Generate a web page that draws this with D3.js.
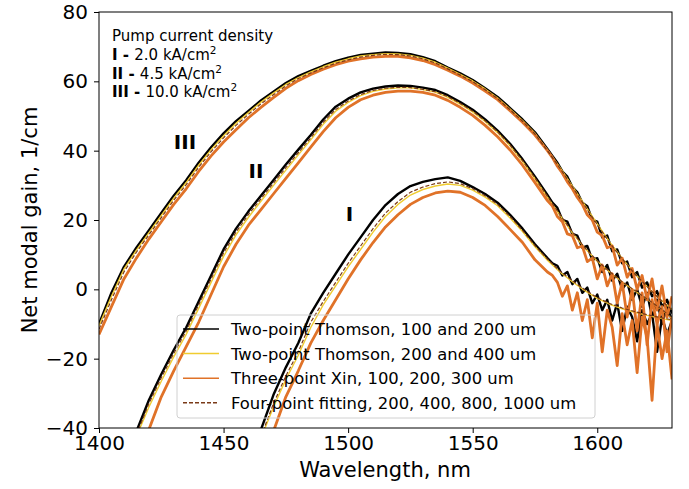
<!DOCTYPE html>
<meta charset="utf-8">
<style>
body { margin: 0; background: #fff; }
text { font-family: "DejaVu Sans", sans-serif; fill: #000; }
.axis path, .axis line { stroke: #000; stroke-width: 1px; }
.axis text { font-size: 20px; font-family: "DejaVu Sans", sans-serif; }
.fit { fill: none; stroke-linejoin: round; }
</style>
<body>
<script src="https://d3js.org/d3.v7.min.js"></script>
<script>

// wavelength grid, nm (main samples every 5 nm)
var wavelengths = [1400,1405,1410,1415,1420,1425,1430,1435,1440,1445,1450,1455,1460,1465,1470,1475,
  1480,1485,1490,1495,1500,1505,1510,1515,1520,1525,1530,1535,1540,1545,1550,1555,1560,1565,1570,1575,
  1580,1585,1590,1595,1600,1605,1610,1615,1620,1625,1630];
// noisy tail samples (every 2 nm) for the measured curves
var tailWl = [1582,1584,1586,1588,1590,1592,1594,1596,1598,1600,1602,1604,1606,1608,1610,1612,1614,
  1616,1618,1620,1622,1624,1626,1628,1630];

// ---- curve III (10.0 kA/cm2) ----
var blackIII = [-10,-1,6.5,12,17,22,27,31.5,36.5,41,45,48.5,51.5,54.5,57,59.5,61.5,63,64.5,65.8,66.8,67.6,
  68,68.3,68.2,67.8,67,65.8,64,62.3,60.4,58,55.5,52.3,49,45.3,40.5];
var blackIIITail = [38.5,36.5,34,32.5,29.5,28,25,24,20,19.5,15,15.5,11,11.5,7.5,8,3.5,5,0.5,2,-2,-0.5,-5,-3,-7];
var orangeIII = [-13,-5,3,9,14.5,19.5,24.5,29,34,38.5,42.5,46,49.5,52.5,55.3,58,60.2,62,63.5,64.8,65.8,66.5,
  67,67.2,67.2,66.8,66,64.8,63.2,61.5,59.5,57.2,54.7,51.5,48.2,44.5,40];
var orangeIIITail = [38,35.5,33.5,31,29,26.5,24.5,21.5,20,16.5,15.5,12,12.5,7,9,3.5,6,0,4,-3,3,-6,1,-8,-2];
var yellowIII = [-10.5,-2,5.8,11.3,16.3,21.3,26.3,30.8,35.8,40.3,44.3,47.9,51,54,56.6,59.1,61.1,62.7,64.2,
  65.5,66.5,67.3,67.7,68,67.9,67.5,66.7,65.5,63.8,62,60.1,57.8,55.2,52,48.7,45,40.2,35.2,29.8,24.3,18.9,
  13.6,8.9,4.6,0.8,-2.7,-5.8];
var dashedIII = [-11.5,-3,5,10.7,15.7,20.7,25.7,30.2,35.2,39.7,43.7,47.3,50.5,53.5,56.1,58.7,60.8,62.4,63.9,
  65.2,66.2,67,67.5,67.8,67.7,67.3,66.5,65.3,63.6,61.8,59.9,57.6,55,51.8,48.5,44.8,40,35,29.6,24.1,18.7,
  13.4,8.8,4.5,0.8,-2.8,-5.9];

// ---- curve II (4.5 kA/cm2) ----
var blackII = [null,null,null,-41,-32,-24.5,-17.5,-11,-3.5,4,11.5,17.5,22.5,27,31.5,36,40.3,44.5,49,52.7,55,
  56.8,57.9,58.5,58.8,58.7,58.2,57.5,56,54,51.8,49,45.8,42,37.5,32.5,27.2];
var blackIITail = [25,23.5,20,19.5,16,15.5,12,12.5,8.5,9,5,7,2.5,4.5,0,2,-3,0,-5,-1,-8,-3,-10,-5,-9];
var orangeII = [null,null,null,null,-40.5,-31,-23.5,-16.5,-9.5,-1.5,6.5,13,18.5,23,27.5,32,36.5,41,45.5,49.5,
  52.5,54.7,56,56.8,57.2,57.2,56.8,56,54.5,52.5,50.2,47.3,44,40.2,35.8,30.8,25.6];
var orangeIITail = [24,21,19.5,16,15.5,12,12.5,8,9,3,7,1,4.5,-4,2,-8,0,-12,-1,-16,-3,-10,-5,-18,-8];
var yellowII = [null,null,null,-42.5,-34,-26.5,-19.5,-13,-5.5,2,9.5,15.7,20.8,25.4,29.9,34.4,38.8,43.1,47.6,
  51.4,53.9,55.9,57.1,57.8,58.1,58.1,57.6,56.9,55.4,53.4,51.2,48.4,45.2,41.4,36.9,31.9,26.6,21.4,16.3,
  11.9,8.1,5,2.1,-0.4,-2.9,-5.4,-8.3];
var dashedII = [null,null,null,-42,-33,-25.5,-18.5,-12,-4.5,3,10.5,16.5,21.6,26.1,30.6,35.1,39.4,43.7,48.2,
  51.9,54.3,56.2,57.4,58,58.3,58.2,57.7,57,55.6,53.6,51.4,48.6,45.4,41.6,37.1,32.1,26.8,21.6,16.5,12,8.2,
  5.1,2.2,-0.3,-2.8,-5.3,-8.2];

// ---- curve I (2.0 kA/cm2) ----
var blackI = [null,null,null,null,null,null,null,null,null,null,null,null,null,-40.5,-30.5,-22.5,-15.5,-7,-1,
  4.5,10,15,20,24.3,27.5,29.8,31,31.8,32.3,31.3,29.5,27.5,25,21.5,17.5,13,9];
var blackITail = [7.5,6.8,4,5,1.5,3,-1,0.5,-4,-1.5,-6,-3,-9,-4,-12,-5,-8,-15,-6,-10,-7,-18,-8,-13,-9];
var orangeI = [null,null,null,null,null,null,null,null,null,null,null,null,null,null,-41,-31,-23.5,-15.5,-9,
  -3,3,8.5,13.5,18,21.5,24.5,26.5,27.8,28.3,28,26.5,24.2,21,17.3,13.5,8.5,5];
var orangeITail = [4,2,-2,1,-6,-1,-9,-3,-14,-4,-18,-6,-11,-22,-7,-16,-9,-24,-8,-14,-32,-10,-20,-12,-26];
var yellowI = [null,null,null,null,null,null,null,null,null,null,null,null,null,-43,-34,-26,-19,-11,-4.5,1,
  6.5,11.5,16.5,21,24.5,27.2,28.8,29.8,30.4,30,28.6,26.6,24.1,20.6,16.7,12.3,8.4,5,2.2,-0.4,-2.6,-4.3,
  -5.6,-6.6,-7.5,-8.3,-9];
var dashedI = [null,null,null,null,null,null,null,null,null,null,null,null,null,-42.5,-33,-25,-18,-9.5,-3.5,2,
  7.5,12.5,17.5,22,25.3,28,29.5,30.5,31,30.5,29,27,24.5,21,17,12.6,8.7,5.3,2.5,-0.1,-2.4,-4.1,-5.4,-6.4,
  -7.3,-8.1,-8.8];

var methodNames = ["Two-point Thomson, 100 and 200 um", "Two-point Thomson, 200 and 400 um",
  "Three-point Xin, 100, 200, 300 um", "Four-point fitting, 200, 400, 800, 1000 um"];
var methodColors = ["#000000", "#f0cc30", "#e07228", "#7a3a18"];
var xTicks = [1400, 1450, 1500, 1550, 1600];
var yTicks = [-40, -20, 0, 20, 40, 60, 80];
var currentLabels = [["I", "2.0"], ["II", "4.5"], ["III", "10.0"]];

var margin = {top: 12, right: 17, bottom: 61, left: 99},
    width = 689 - margin.left - margin.right,
    height = 489 - margin.top - margin.bottom;

var x = d3.scaleLinear().domain([1400, 1630]).range([0, width]);
var y = d3.scaleLinear().domain([-40, 80]).range([height, 0]);

var svg = d3.select("body").append("svg")
    .attr("width", 689)
    .attr("height", 489)
  .append("g")
    .attr("transform", "translate(" + margin.left + "," + margin.top + ")");

svg.append("clipPath").attr("id", "clip")
  .append("rect").attr("width", width).attr("height", height);

function points(xs, ys) {
  return ys.map(function(v, i) { return {x: xs[i], y: v}; })
           .filter(function(d) { return d.y !== null; });
}

var line = d3.line()
    .x(function(d) { return x(d.x); })
    .y(function(d) { return y(d.y); });

var plot = svg.append("g").attr("clip-path", "url(#clip)");

var measured = [
  {main: blackIII, tail: blackIIITail}, {main: blackII, tail: blackIITail}, {main: blackI, tail: blackITail}
];
var fits = [yellowIII, yellowII, yellowI];
var xin = [
  {main: orangeIII, tail: orangeIIITail}, {main: orangeII, tail: orangeIITail}, {main: orangeI, tail: orangeITail}
];
var dashed = [dashedIII, dashedII, dashedI];

// black: two-point Thomson 100/200
measured.forEach(function(s) {
  plot.append("path")
      .datum(points(wavelengths, s.main).concat(points(tailWl, s.tail)))
      .attr("class", "fit")
      .attr("stroke", methodColors[0])
      .attr("stroke-width", 2.4)
      .attr("d", line);
});
// yellow: two-point Thomson 200/400
fits.forEach(function(s) {
  plot.append("path")
      .datum(points(wavelengths, s))
      .attr("class", "fit")
      .attr("stroke", methodColors[1])
      .attr("stroke-width", 1.4)
      .attr("d", line);
});
// orange: three-point Xin
xin.forEach(function(s) {
  plot.append("path")
      .datum(points(wavelengths, s.main).concat(points(tailWl, s.tail)))
      .attr("class", "fit")
      .attr("stroke", methodColors[2])
      .attr("stroke-width", 2.8)
      .attr("d", line);
});
// dashed: four-point fitting
dashed.forEach(function(s) {
  plot.append("path")
      .datum(points(wavelengths, s))
      .attr("class", "fit")
      .attr("stroke", methodColors[3])
      .attr("stroke-width", 1.2)
      .attr("stroke-dasharray", "4,2")
      .attr("d", line);
});

// frame
svg.append("rect")
    .attr("width", width).attr("height", height)
    .attr("fill", "none").attr("stroke", "#000").attr("stroke-width", 1);

// axes
svg.append("g")
    .attr("class", "axis")
    .attr("transform", "translate(0," + height + ")")
    .call(d3.axisBottom(x).tickValues(xTicks).tickFormat(d3.format("d")).tickSizeOuter(0).tickSize(5).tickPadding(3));
svg.append("g")
    .attr("class", "axis")
    .call(d3.axisLeft(y).tickValues(yTicks).tickFormat(function(d) { return d < 0 ? "\u2212" + Math.abs(d) : d; })
      .tickSizeOuter(0).tickSize(5).tickPadding(6));
svg.selectAll(".axis .domain").remove();

svg.append("text")
    .attr("x", (385 - margin.left))
    .attr("y", height + 49)
    .attr("text-anchor", "middle")
    .style("font-size", "21px")
    .text("Wavelength, nm");

svg.append("text")
    .attr("transform", "translate(" + (37 - margin.left) + "," + (220 - margin.top) + ")rotate(-90)")
    .attr("text-anchor", "middle")
    .style("font-size", "21px")
    .text("Net modal gain, 1/cm");

// roman labels next to curves
var romanPos = [{t: "III", wl: 1434.5, g: 40.5}, {t: "II", wl: 1463, g: 32}, {t: "I", wl: 1500.5, g: 19.8}];
romanPos.forEach(function(r) {
  svg.append("text")
      .attr("x", x(r.wl))
      .attr("y", y(r.g))
      .attr("text-anchor", "middle")
      .style("font-size", "20px")
      .style("font-weight", "bold")
      .text(r.t);
});

// pump current density note
var note = svg.append("g").attr("transform", "translate(" + (112 - margin.left) + "," + (41 - margin.top) + ")");
note.append("text").style("font-size", "15px").text("Pump current density");
currentLabels.forEach(function(c, i) {
  var t = note.append("text").attr("y", 18.8 * (i + 1)).style("font-size", "15px");
  t.append("tspan").style("font-weight", "bold").text(c[0] + " - ");
  t.append("tspan").text(c[1] + " kA/cm");
  t.append("tspan").attr("dy", -6).style("font-size", "10.5px").text("2");
});

// legend
var lg = svg.append("g").attr("transform", "translate(" + (177 - margin.left) + "," + (315 - margin.top) + ")");
lg.append("rect")
    .attr("width", 418).attr("height", 103).attr("rx", 3)
    .attr("fill", "none").attr("stroke", "#d0d0d0");
methodNames.forEach(function(name, i) {
  var yy = 14 + i * 24.6;
  lg.append("line")
      .attr("x1", 6).attr("x2", 42).attr("y1", yy).attr("y2", yy)
      .attr("stroke", methodColors[i])
      .attr("stroke-width", 1.5)
      .attr("stroke-dasharray", i === 3 ? "4,2" : null);
  lg.append("text")
      .attr("x", 54).attr("y", yy + 6)
      .style("font-size", "16.4px")
      .text(name);
});

</script>
</body>
